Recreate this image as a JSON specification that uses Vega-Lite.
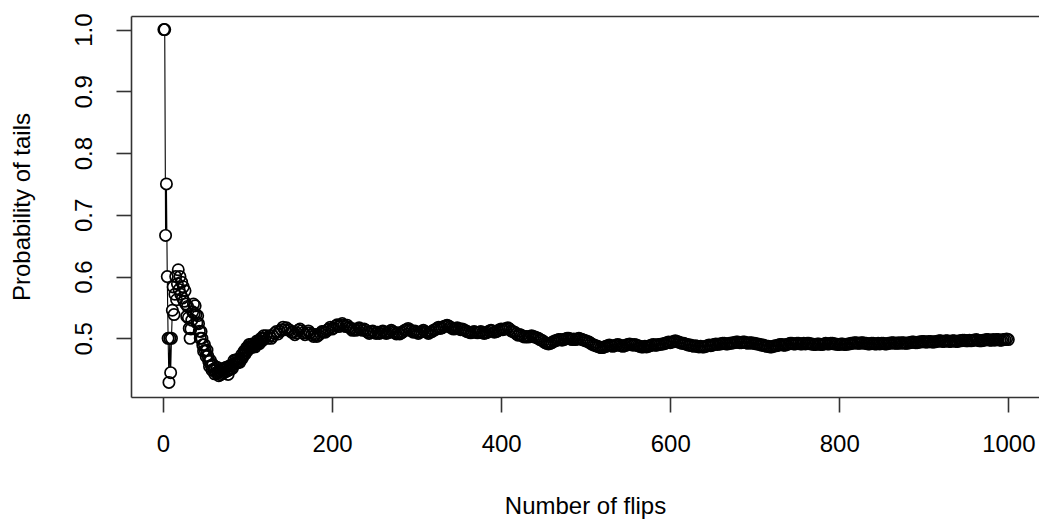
{
  "$schema": "https://vega.github.io/schema/vega-lite/v6.json",
  "width": 908,
  "height": 381,
  "autosize": {"type": "none"},
  "padding": {"left": 131, "top": 16, "right": 0, "bottom": 122},
  "background": "white",
  "config": {
    "view": {"stroke": null},
    "font": "Liberation Sans",
    "axis": {
      "domainColor": "#333333",
      "domainWidth": 1.6,
      "tickColor": "#333333",
      "tickWidth": 1.6,
      "tickSize": 15,
      "grid": false,
      "labelFont": "Liberation Sans",
      "labelFontSize": 24,
      "labelColor": "black",
      "labelPadding": 20,
      "titleFont": "Liberation Sans",
      "titleFontSize": 24,
      "titleFontWeight": "normal",
      "titleColor": "black"
    }
  },
  "data": {
    "values": [
      {"n":1,"p":1},{"n":2,"p":1},{"n":3,"p":0.6667},{"n":4,"p":0.75},{"n":5,"p":0.6},{"n":6,"p":0.5},{"n":7,"p":0.4286},{"n":8,"p":0.5},{"n":9,"p":0.4444},{"n":10,"p":0.5},
      {"n":11,"p":0.5455},{"n":12,"p":0.5833},{"n":13,"p":0.5385},{"n":14,"p":0.5714},{"n":15,"p":0.6},{"n":16,"p":0.5625},{"n":17,"p":0.5882},{"n":18,"p":0.6111},{"n":19,"p":0.5789},{"n":20,"p":0.6},
      {"n":21,"p":0.5714},{"n":22,"p":0.5909},{"n":23,"p":0.5652},{"n":24,"p":0.5833},{"n":25,"p":0.56},{"n":26,"p":0.5769},{"n":27,"p":0.5556},{"n":28,"p":0.5357},{"n":29,"p":0.5517},{"n":30,"p":0.5333},
      {"n":31,"p":0.5161},{"n":32,"p":0.5},{"n":33,"p":0.5152},{"n":34,"p":0.5294},{"n":35,"p":0.5429},{"n":36,"p":0.5556},{"n":37,"p":0.5405},{"n":38,"p":0.5526},{"n":39,"p":0.5385},{"n":40,"p":0.525},
      {"n":41,"p":0.5366},{"n":42,"p":0.5238},{"n":43,"p":0.5116},{"n":44,"p":0.5},{"n":45,"p":0.5111},{"n":46,"p":0.5},{"n":47,"p":0.4894},{"n":48,"p":0.4792},{"n":49,"p":0.4898},{"n":50,"p":0.48},
      {"n":51,"p":0.4706},{"n":52,"p":0.4808},{"n":53,"p":0.4717},{"n":54,"p":0.463},{"n":55,"p":0.4545},{"n":56,"p":0.4643},{"n":57,"p":0.4561},{"n":58,"p":0.4483},{"n":59,"p":0.4576},{"n":60,"p":0.45},
      {"n":61,"p":0.4426},{"n":62,"p":0.4516},{"n":63,"p":0.4444},{"n":64,"p":0.4531},{"n":65,"p":0.4462},{"n":66,"p":0.4394},{"n":67,"p":0.4478},{"n":68,"p":0.4412},{"n":69,"p":0.4493},{"n":70,"p":0.4429},
      {"n":71,"p":0.4507},{"n":72,"p":0.4444},{"n":73,"p":0.4521},{"n":74,"p":0.4459},{"n":75,"p":0.4533},{"n":76,"p":0.4474},{"n":77,"p":0.4416},{"n":78,"p":0.4487},{"n":79,"p":0.4557},{"n":80,"p":0.45},
      {"n":81,"p":0.4568},{"n":82,"p":0.4512},{"n":83,"p":0.4578},{"n":84,"p":0.4643},{"n":85,"p":0.4588},{"n":86,"p":0.4651},{"n":87,"p":0.4598},{"n":88,"p":0.4659},{"n":89,"p":0.4607},{"n":90,"p":0.4667},
      {"n":91,"p":0.4615},{"n":92,"p":0.4674},{"n":93,"p":0.4731},{"n":94,"p":0.4681},{"n":95,"p":0.4737},{"n":96,"p":0.4792},{"n":97,"p":0.4742},{"n":98,"p":0.4796},{"n":99,"p":0.4848},{"n":100,"p":0.48},
      {"n":101,"p":0.4851},{"n":102,"p":0.4902},{"n":103,"p":0.4854},{"n":104,"p":0.4904},{"n":105,"p":0.4857},{"n":106,"p":0.4906},{"n":107,"p":0.486},{"n":108,"p":0.4907},{"n":109,"p":0.4862},{"n":110,"p":0.4909},
      {"n":111,"p":0.4955},{"n":112,"p":0.4911},{"n":113,"p":0.4956},{"n":114,"p":0.4912},{"n":115,"p":0.4957},{"n":116,"p":0.5},{"n":117,"p":0.4957},{"n":118,"p":0.5},{"n":119,"p":0.5042},{"n":120,"p":0.5},
      {"n":122,"p":0.504},{"n":124,"p":0.5},{"n":126,"p":0.504},{"n":128,"p":0.5},{"n":130,"p":0.504},{"n":132,"p":0.508},{"n":134,"p":0.511},{"n":136,"p":0.507},{"n":138,"p":0.511},{"n":140,"p":0.514},
      {"n":142,"p":0.518},{"n":144,"p":0.514},{"n":146,"p":0.517},{"n":148,"p":0.514},{"n":150,"p":0.513},{"n":152,"p":0.51},{"n":154,"p":0.51},{"n":156,"p":0.506},{"n":158,"p":0.509},{"n":160,"p":0.513},
      {"n":162,"p":0.515},{"n":164,"p":0.512},{"n":166,"p":0.509},{"n":168,"p":0.506},{"n":170,"p":0.509},{"n":172,"p":0.512},{"n":174,"p":0.509},{"n":176,"p":0.506},{"n":178,"p":0.503},{"n":180,"p":0.506},
      {"n":182,"p":0.503},{"n":184,"p":0.505},{"n":186,"p":0.508},{"n":188,"p":0.511},{"n":190,"p":0.511},{"n":192,"p":0.51},{"n":194,"p":0.513},{"n":196,"p":0.515},{"n":198,"p":0.518},{"n":200,"p":0.515},
      {"n":202,"p":0.517},{"n":204,"p":0.52},{"n":206,"p":0.522},{"n":208,"p":0.519},{"n":210,"p":0.521},{"n":212,"p":0.524},{"n":214,"p":0.521},{"n":216,"p":0.519},{"n":218,"p":0.521},{"n":220,"p":0.518},
      {"n":222,"p":0.516},{"n":224,"p":0.513},{"n":226,"p":0.515},{"n":228,"p":0.513},{"n":230,"p":0.515},{"n":232,"p":0.517},{"n":234,"p":0.515},{"n":236,"p":0.513},{"n":238,"p":0.515},{"n":240,"p":0.513},
      {"n":242,"p":0.51},{"n":244,"p":0.508},{"n":246,"p":0.51},{"n":248,"p":0.512},{"n":250,"p":0.51},{"n":252,"p":0.508},{"n":254,"p":0.51},{"n":256,"p":0.508},{"n":258,"p":0.51},{"n":260,"p":0.512},
      {"n":262,"p":0.51},{"n":264,"p":0.508},{"n":266,"p":0.509},{"n":268,"p":0.511},{"n":270,"p":0.513},{"n":272,"p":0.511},{"n":274,"p":0.509},{"n":276,"p":0.507},{"n":278,"p":0.509},{"n":280,"p":0.507},
      {"n":282,"p":0.509},{"n":284,"p":0.511},{"n":286,"p":0.513},{"n":288,"p":0.514},{"n":290,"p":0.516},{"n":292,"p":0.514},{"n":294,"p":0.512},{"n":296,"p":0.51},{"n":298,"p":0.512},{"n":300,"p":0.51},
      {"n":302,"p":0.508},{"n":304,"p":0.51},{"n":306,"p":0.511},{"n":308,"p":0.513},{"n":310,"p":0.511},{"n":312,"p":0.51},{"n":314,"p":0.508},{"n":316,"p":0.51},{"n":318,"p":0.511},{"n":320,"p":0.513},
      {"n":322,"p":0.514},{"n":324,"p":0.516},{"n":326,"p":0.518},{"n":328,"p":0.516},{"n":330,"p":0.517},{"n":332,"p":0.519},{"n":334,"p":0.52},{"n":336,"p":0.521},{"n":338,"p":0.52},{"n":340,"p":0.518},
      {"n":342,"p":0.516},{"n":344,"p":0.515},{"n":346,"p":0.516},{"n":348,"p":0.517},{"n":350,"p":0.516},{"n":352,"p":0.514},{"n":354,"p":0.515},{"n":356,"p":0.514},{"n":358,"p":0.512},{"n":360,"p":0.511},
      {"n":362,"p":0.51},{"n":364,"p":0.509},{"n":366,"p":0.51},{"n":368,"p":0.511},{"n":370,"p":0.51},{"n":372,"p":0.509},{"n":374,"p":0.51},{"n":376,"p":0.511},{"n":378,"p":0.509},{"n":380,"p":0.508},
      {"n":382,"p":0.509},{"n":384,"p":0.51},{"n":386,"p":0.512},{"n":388,"p":0.513},{"n":390,"p":0.512},{"n":392,"p":0.51},{"n":394,"p":0.511},{"n":396,"p":0.512},{"n":398,"p":0.514},{"n":400,"p":0.515},
      {"n":402,"p":0.514},{"n":404,"p":0.515},{"n":406,"p":0.516},{"n":408,"p":0.517},{"n":410,"p":0.515},{"n":412,"p":0.512},{"n":414,"p":0.511},{"n":416,"p":0.51},{"n":418,"p":0.507},{"n":420,"p":0.505},
      {"n":422,"p":0.506},{"n":424,"p":0.505},{"n":426,"p":0.503},{"n":428,"p":0.502},{"n":430,"p":0.503},{"n":432,"p":0.502},{"n":434,"p":0.503},{"n":436,"p":0.504},{"n":438,"p":0.503},{"n":440,"p":0.502},
      {"n":442,"p":0.501},{"n":444,"p":0.5},{"n":446,"p":0.498},{"n":448,"p":0.497},{"n":450,"p":0.495},{"n":452,"p":0.493},{"n":454,"p":0.492},{"n":456,"p":0.491},{"n":458,"p":0.492},{"n":460,"p":0.493},
      {"n":462,"p":0.495},{"n":464,"p":0.496},{"n":466,"p":0.497},{"n":468,"p":0.498},{"n":470,"p":0.498},{"n":472,"p":0.497},{"n":474,"p":0.498},{"n":476,"p":0.499},{"n":478,"p":0.5},{"n":480,"p":0.5},
      {"n":482,"p":0.499},{"n":484,"p":0.498},{"n":486,"p":0.499},{"n":488,"p":0.498},{"n":490,"p":0.499},{"n":492,"p":0.5},{"n":494,"p":0.499},{"n":496,"p":0.498},{"n":498,"p":0.497},{"n":500,"p":0.496},
      {"n":502,"p":0.495},{"n":504,"p":0.494},{"n":506,"p":0.492},{"n":508,"p":0.49},{"n":510,"p":0.489},{"n":512,"p":0.488},{"n":514,"p":0.487},{"n":516,"p":0.486},{"n":518,"p":0.485},{"n":520,"p":0.485},
      {"n":522,"p":0.486},{"n":524,"p":0.487},{"n":526,"p":0.488},{"n":528,"p":0.489},{"n":530,"p":0.488},{"n":532,"p":0.487},{"n":534,"p":0.488},{"n":536,"p":0.489},{"n":538,"p":0.49},{"n":540,"p":0.489},
      {"n":542,"p":0.488},{"n":544,"p":0.487},{"n":546,"p":0.488},{"n":548,"p":0.489},{"n":550,"p":0.49},{"n":552,"p":0.491},{"n":554,"p":0.49},{"n":556,"p":0.489},{"n":558,"p":0.49},{"n":560,"p":0.489},
      {"n":562,"p":0.488},{"n":564,"p":0.487},{"n":566,"p":0.486},{"n":568,"p":0.486},{"n":570,"p":0.487},{"n":572,"p":0.486},{"n":574,"p":0.487},{"n":576,"p":0.488},{"n":578,"p":0.489},{"n":580,"p":0.49},
      {"n":582,"p":0.489},{"n":584,"p":0.489},{"n":586,"p":0.49},{"n":588,"p":0.49},{"n":590,"p":0.491},{"n":592,"p":0.491},{"n":594,"p":0.492},{"n":596,"p":0.493},{"n":598,"p":0.494},{"n":600,"p":0.493},
      {"n":602,"p":0.494},{"n":604,"p":0.495},{"n":606,"p":0.496},{"n":608,"p":0.495},{"n":610,"p":0.494},{"n":612,"p":0.493},{"n":614,"p":0.492},{"n":616,"p":0.492},{"n":618,"p":0.491},{"n":620,"p":0.49},
      {"n":622,"p":0.489},{"n":624,"p":0.489},{"n":626,"p":0.488},{"n":628,"p":0.487},{"n":630,"p":0.488},{"n":632,"p":0.487},{"n":634,"p":0.486},{"n":636,"p":0.487},{"n":638,"p":0.486},{"n":640,"p":0.486},
      {"n":642,"p":0.487},{"n":644,"p":0.488},{"n":646,"p":0.489},{"n":648,"p":0.488},{"n":650,"p":0.489},{"n":652,"p":0.49},{"n":654,"p":0.491},{"n":656,"p":0.49},{"n":658,"p":0.491},{"n":660,"p":0.491},
      {"n":662,"p":0.492},{"n":664,"p":0.492},{"n":666,"p":0.491},{"n":668,"p":0.491},{"n":670,"p":0.492},{"n":672,"p":0.492},{"n":674,"p":0.493},{"n":676,"p":0.493},{"n":678,"p":0.494},{"n":680,"p":0.494},
      {"n":682,"p":0.493},{"n":684,"p":0.493},{"n":686,"p":0.494},{"n":688,"p":0.494},{"n":690,"p":0.493},{"n":692,"p":0.492},{"n":694,"p":0.493},{"n":696,"p":0.493},{"n":698,"p":0.492},{"n":700,"p":0.492},
      {"n":702,"p":0.491},{"n":704,"p":0.491},{"n":706,"p":0.49},{"n":708,"p":0.489},{"n":710,"p":0.489},{"n":712,"p":0.488},{"n":714,"p":0.487},{"n":716,"p":0.487},{"n":718,"p":0.486},{"n":720,"p":0.486},
      {"n":722,"p":0.487},{"n":724,"p":0.488},{"n":726,"p":0.488},{"n":728,"p":0.489},{"n":730,"p":0.49},{"n":732,"p":0.49},{"n":734,"p":0.489},{"n":736,"p":0.489},{"n":738,"p":0.49},{"n":740,"p":0.491},
      {"n":742,"p":0.492},{"n":744,"p":0.492},{"n":746,"p":0.491},{"n":748,"p":0.491},{"n":750,"p":0.492},{"n":752,"p":0.492},{"n":754,"p":0.491},{"n":756,"p":0.491},{"n":758,"p":0.492},{"n":760,"p":0.491},
      {"n":762,"p":0.492},{"n":764,"p":0.492},{"n":766,"p":0.491},{"n":768,"p":0.491},{"n":770,"p":0.49},{"n":772,"p":0.49},{"n":774,"p":0.491},{"n":776,"p":0.491},{"n":778,"p":0.49},{"n":780,"p":0.49},
      {"n":782,"p":0.491},{"n":784,"p":0.492},{"n":786,"p":0.491},{"n":788,"p":0.491},{"n":790,"p":0.492},{"n":792,"p":0.492},{"n":794,"p":0.491},{"n":796,"p":0.491},{"n":798,"p":0.49},{"n":800,"p":0.49},
      {"n":802,"p":0.491},{"n":804,"p":0.491},{"n":806,"p":0.49},{"n":808,"p":0.49},{"n":810,"p":0.491},{"n":812,"p":0.491},{"n":814,"p":0.492},{"n":816,"p":0.492},{"n":818,"p":0.493},{"n":820,"p":0.493},
      {"n":822,"p":0.492},{"n":824,"p":0.492},{"n":826,"p":0.493},{"n":828,"p":0.493},{"n":830,"p":0.492},{"n":832,"p":0.492},{"n":834,"p":0.491},{"n":836,"p":0.491},{"n":838,"p":0.492},{"n":840,"p":0.492},
      {"n":842,"p":0.491},{"n":844,"p":0.491},{"n":846,"p":0.492},{"n":848,"p":0.491},{"n":850,"p":0.492},{"n":852,"p":0.492},{"n":854,"p":0.491},{"n":856,"p":0.491},{"n":858,"p":0.492},{"n":860,"p":0.492},
      {"n":862,"p":0.493},{"n":864,"p":0.493},{"n":866,"p":0.492},{"n":868,"p":0.492},{"n":870,"p":0.493},{"n":872,"p":0.492},{"n":874,"p":0.493},{"n":876,"p":0.493},{"n":878,"p":0.492},{"n":880,"p":0.492},
      {"n":882,"p":0.493},{"n":884,"p":0.493},{"n":886,"p":0.494},{"n":888,"p":0.494},{"n":890,"p":0.493},{"n":892,"p":0.493},{"n":894,"p":0.494},{"n":896,"p":0.494},{"n":898,"p":0.495},{"n":900,"p":0.495},
      {"n":902,"p":0.494},{"n":904,"p":0.494},{"n":906,"p":0.495},{"n":908,"p":0.495},{"n":910,"p":0.494},{"n":912,"p":0.494},{"n":914,"p":0.495},{"n":916,"p":0.495},{"n":918,"p":0.496},{"n":920,"p":0.496},
      {"n":922,"p":0.495},{"n":924,"p":0.495},{"n":926,"p":0.496},{"n":928,"p":0.496},{"n":930,"p":0.495},{"n":932,"p":0.495},{"n":934,"p":0.496},{"n":936,"p":0.496},{"n":938,"p":0.495},{"n":940,"p":0.495},
      {"n":942,"p":0.496},{"n":944,"p":0.496},{"n":946,"p":0.497},{"n":948,"p":0.497},{"n":950,"p":0.496},{"n":952,"p":0.496},{"n":954,"p":0.497},{"n":956,"p":0.496},{"n":958,"p":0.497},{"n":960,"p":0.497},
      {"n":962,"p":0.498},{"n":964,"p":0.497},{"n":966,"p":0.496},{"n":968,"p":0.496},{"n":970,"p":0.497},{"n":972,"p":0.497},{"n":974,"p":0.498},{"n":976,"p":0.498},{"n":978,"p":0.497},{"n":980,"p":0.497},
      {"n":982,"p":0.498},{"n":984,"p":0.497},{"n":986,"p":0.498},{"n":988,"p":0.498},{"n":990,"p":0.497},{"n":992,"p":0.497},{"n":994,"p":0.498},{"n":996,"p":0.498},{"n":998,"p":0.499},{"n":1000,"p":0.498}
    ]
  },
  "layer": [
    {
      "encoding": {
        "x": {
          "field": "n",
          "type": "quantitative",
          "scale": {"domain": [-37.9, 1036.3], "nice": false, "zero": false},
          "axis": {"orient": "bottom", "values": [0, 200, 400, 600, 800, 1000], "format": "d", "title": "Number of flips", "titlePadding": 38, "labelFlush": false}
        },
        "y": {
          "field": "p",
          "type": "quantitative",
          "scale": {"domain": [0.405, 1.022], "nice": false, "zero": false},
          "axis": {"values": [0.5, 0.6, 0.7, 0.8, 0.9, 1.0], "format": ".1f", "labelAngle": 270, "title": "Probability of tails", "titlePadding": 38, "labelFlush": false}
        }
      },
      "layer": [
        {"mark": {"type": "line", "color": "black", "strokeWidth": 1.1}},
        {"mark": {"type": "point", "shape": "circle", "filled": true, "fill": "white", "strokeWidth": 0, "size": 122, "opacity": 1}},
        {"mark": {"type": "point", "shape": "circle", "filled": false, "stroke": "black", "strokeWidth": 1.7, "size": 128, "opacity": 1}}
      ]
    },
    {
      "mark": {"type": "point", "opacity": 0},
      "encoding": {
        "x": {
          "field": "n",
          "type": "quantitative",
          "scale": {"domain": [-37.9, 1036.3], "nice": false, "zero": false},
          "axis": {"orient": "top", "labels": false, "ticks": false, "title": null, "domain": true, "grid": false}
        },
        "y": {"field": "p", "type": "quantitative"}
      }
    }
  ],
  "resolve": {"axis": {"x": "independent"}}
}
